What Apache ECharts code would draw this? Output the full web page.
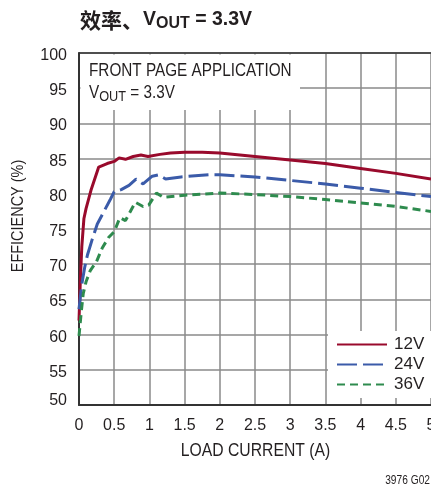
<!DOCTYPE html>
<html>
<head>
<meta charset="utf-8">
<script src="https://cdn.jsdelivr.net/npm/echarts@6/dist/echarts.min.js"></script>
<style>
  html, body { margin: 0; padding: 0; background: #fff; }
  #chart { width: 431px; height: 491px; }
</style>
</head>
<body>
<div id="chart"></div>
<script>
// Efficiency vs load current, three input voltages
const xTicks = [0, 0.5, 1, 1.5, 2, 2.5, 3, 3.5, 4, 4.5, 5];
const yTicks = [50, 55, 60, 65, 70, 75, 80, 85, 90, 95, 100];

const seriesNames = ['12V', '24V', '36V'];

const current12 = [0, 0.02, 0.04, 0.07, 0.1, 0.17, 0.28, 0.4, 0.5, 0.57, 0.66, 0.77, 0.88, 0.98, 1.15, 1.3, 1.5, 1.75, 2.0, 2.5, 3.0, 3.5, 4.0, 4.5, 5.0];
const eff12     = [62.0, 68.0, 72.5, 76.5, 77.9, 80.5, 83.8, 84.3, 84.6, 85.1, 84.9, 85.3, 85.5, 85.3, 85.6, 85.8, 85.9, 85.9, 85.8, 85.3, 84.8, 84.3, 83.6, 82.9, 82.1];

const current24 = [0, 0.04, 0.08, 0.12, 0.19, 0.26, 0.36, 0.45, 0.5, 0.6, 0.71, 0.81, 0.91, 1.04, 1.13, 1.23, 1.45, 1.85, 2.0, 2.5, 3.0, 3.5, 4.0, 4.5, 5.0];
const eff24     = [63.6, 67.2, 69.5, 71.3, 73.6, 75.7, 77.6, 79.3, 80.3, 80.6, 81.2, 82.1, 81.4, 82.5, 82.7, 82.1, 82.4, 82.7, 82.7, 82.4, 81.9, 81.4, 80.8, 80.2, 79.6];

const current36 = [0, 0.03, 0.06, 0.1, 0.16, 0.25, 0.33, 0.42, 0.5, 0.58, 0.66, 0.8, 0.91, 0.99, 1.1, 1.2, 1.5, 2.0, 2.5, 3.0, 3.5, 4.0, 4.5, 5.0];
const eff36     = [59.8, 63.0, 65.8, 67.5, 69.1, 70.4, 72.3, 73.8, 74.6, 76.6, 76.2, 78.8, 78.2, 78.4, 80.1, 79.5, 79.8, 80.1, 79.9, 79.6, 79.2, 78.7, 78.2, 77.5];

const SANS = '"Liberation Sans", Arial, sans-serif';
const CJK = '"Noto Sans CJK SC", sans-serif';
const INK = '#231f20';
const GRIDC = '#8a8a8a';
// horizontal squeeze giving the condensed lettering of the captions
const NARROW_X = 0.85;

const pairs = (xs, ys) => xs.map((x, i) => [x, ys[i]]);

const chart = echarts.init(document.getElementById('chart'), null, { renderer: 'canvas' });

const lineSeries = (name, data, color, dash) => ({
  name,
  type: 'line',
  data,
  symbol: 'none',
  smooth: false,
  z: 5,
  lineStyle: { color, width: 3, type: dash || 'solid', cap: 'butt' },
  itemStyle: { color }
});

const caption = (x, y, text, size, opts) => Object.assign({
  type: 'text', z: 2, silent: true, x, y, scaleX: NARROW_X,
  style: { x: 0, y: 0, text, verticalAlign: 'middle', font: size + 'px ' + SANS, fill: INK }
}, opts || {});

chart.setOption({
  animation: false,
  backgroundColor: '#fff',
  grid: { left: 79, top: 53, right: 0, bottom: 86, containLabel: false, outerBoundsMode: 'none' },
  xAxis: [{
    type: 'value',
    position: 'bottom',
    min: xTicks[0],
    max: xTicks[xTicks.length - 1],
    interval: xTicks[1] - xTicks[0],
    axisLine: { show: true, onZero: false, lineStyle: { color: '#333', width: 2 } },
    axisTick: { show: false },
    axisLabel: {
      fontFamily: SANS, fontSize: 16, color: INK, margin: 13,
      formatter: v => String(v)
    },
    splitLine: { show: true, lineStyle: { color: GRIDC, width: 1.5 } }
  }, {
    type: 'value',
    position: 'top',
    min: xTicks[0],
    max: xTicks[xTicks.length - 1],
    interval: xTicks[1] - xTicks[0],
    axisLine: { show: true, onZero: false, lineStyle: { color: '#333', width: 1.5 } },
    axisTick: { show: false },
    axisLabel: { show: false },
    splitLine: { show: false }
  }],
  yAxis: {
    type: 'value',
    min: yTicks[0],
    max: yTicks[yTicks.length - 1],
    interval: yTicks[1] - yTicks[0],
    axisLine: { show: true, onZero: false, lineStyle: { color: '#333', width: 2 } },
    axisTick: { show: false },
    axisLabel: {
      margin: 12,
      formatter: v => (v === yTicks[0] ? '{lo|' + v + '}' : '{n|' + v + '}'),
      rich: {
        n: { fontFamily: SANS, fontSize: 16, color: INK, padding: [5, 0, 0, 0] },
        lo: { fontFamily: SANS, fontSize: 16, color: INK, padding: [0, 0, 8, 0] }
      }
    },
    splitLine: { show: true, lineStyle: { color: GRIDC, width: 1.5 } }
  },
  legend: {
    orient: 'vertical',
    left: 336,
    top: 336,
    padding: 0,
    itemWidth: 50,
    itemHeight: 14,
    itemGap: 3,
    data: seriesNames,
    itemStyle: { opacity: 0 },
    textStyle: { fontFamily: SANS, fontSize: 17, color: INK, padding: [0, 0, 0, 2] }
  },
  graphic: [
    // white panel behind the legend
    { type: 'rect', z: 1, silent: true,
      shape: { x: 328, y: 331, width: 110, height: 67 },
      style: { fill: '#fff' } },
    // white panel behind the application note
    { type: 'rect', z: 1, silent: true,
      shape: { x: 80.5, y: 54.5, width: 219.5, height: 55.5 },
      style: { fill: '#fff' } },
    caption(89, 71, 'FRONT PAGE APPLICATION', 18),
    caption(89, 93, '', 18, {
      style: { x: 0, y: 0, verticalAlign: 'middle', fill: INK,
        text: '{v|V}{s|OUT}{v| = 3.3V}',
        rich: {
          v: { fontFamily: SANS, fontSize: 18, color: INK },
          s: { fontFamily: SANS, fontSize: 15, color: INK, padding: [8, 0, 0, 0] }
        } } }),
    // chart title
    { type: 'text', z: 2, silent: true,
      style: { x: 80, y: 20, text: '效率、', verticalAlign: 'middle',
        font: 'bold 21px ' + CJK, fill: INK } },
    { type: 'text', z: 2, silent: true,
      style: { x: 143, y: 20, verticalAlign: 'middle', fill: INK,
        text: '{v|V}{s|OUT}{v| = 3.3V}',
        rich: {
          v: { fontFamily: SANS, fontSize: 19.5, fontWeight: 'bold', color: INK },
          s: { fontFamily: SANS, fontSize: 16, fontWeight: 'bold', color: INK, padding: [8, 0, 0, 0] }
        } } },
    // axis titles
    caption(255.5, 451, 'LOAD CURRENT (A)', 18.5, {
      style: { x: 0, y: 0, text: 'LOAD CURRENT (A)', align: 'center', verticalAlign: 'middle',
        font: '18.5px ' + SANS, fill: INK } }),
    caption(18, 216, 'EFFICIENCY (%)', 17, { rotation: Math.PI / 2,
      style: { x: 0, y: 0, text: 'EFFICIENCY (%)', align: 'center', verticalAlign: 'middle',
        font: '17px ' + SANS, fill: INK } }),
    // figure number
    caption(430, 481, '3976 G02', 12, {
      style: { x: 0, y: 0, text: '3976 G02', align: 'right', verticalAlign: 'middle',
        font: '12px ' + SANS, fill: INK } })
  ],
  series: [
    lineSeries(seriesNames[0], pairs(current12, eff12), '#990a2c', 'solid'),
    lineSeries(seriesNames[1], pairs(current24, eff24), '#3b5ba9', [20, 6]),
    lineSeries(seriesNames[2], pairs(current36, eff36), '#2e8b4e', [8, 5])
  ]
});
</script>
</body>
</html>
